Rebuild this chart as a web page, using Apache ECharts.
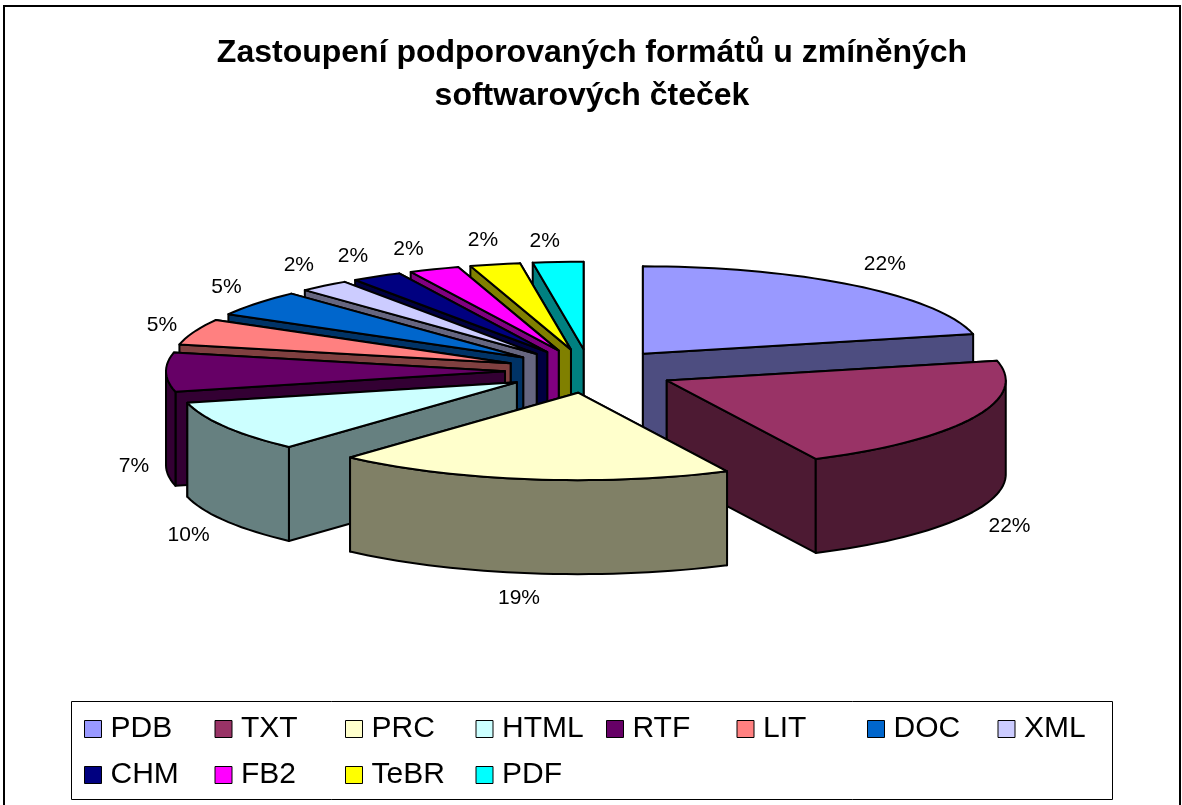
<!DOCTYPE html>
<html>
<head>
<meta charset="utf-8">
<style>
  html, body { margin: 0; padding: 0; background: #fff; }
  #chart { width: 1182px; height: 805px; }
</style>
<script src="https://cdn.jsdelivr.net/npm/echarts@6/dist/echarts.min.js"></script>
</head>
<body>
<div id="chart"></div>
<script>
const formats = ['PDB', 'TXT', 'PRC', 'HTML', 'RTF', 'LIT', 'DOC', 'XML', 'CHM', 'FB2', 'TeBR', 'PDF']
// slice sizes as measured from the wedge angles
const shares = [21.4, 21.4, 19, 9.5, 7.2, 4.8, 4.8, 2.4, 2.4, 2.4, 2.4, 2.4]
// percentages as printed next to the slices
const percentLabels = ['22%', '22%', '19%', '10%', '7%', '5%', '5%', '2%', '2%', '2%', '2%', '2%']
const topColors = ['#9999FF', '#993366', '#FFFFCC', '#CCFFFF', '#660066', '#FF8080', '#0066CC', '#CCCCFF', '#000080', '#FF00FF', '#FFFF00', '#00FFFF']
const sideColors = ['#4D4D80', '#4D1A33', '#808066', '#668080', '#330033', '#804040', '#003366', '#666680', '#000040', '#800080', '#808000', '#008080']

// fake 3D pie: flat disc tilted back
const cx = 590
const cy = 371
const radius = 339
const tilt = 0.258
const explode = 85
const depth = 94

// small per-label corrections, the default placement is a few px off
const labelShift = [[3, 0], [-4, 3], [-5, -2], [2, 1], [13, 0], [10, 3], [5, 1], [3, 0], [-1, 3], [-9, 5], [-2, 2], [-10, 6]]

const total = shares.reduce((a, b) => a + b, 0)

const project = (u, v, down) => [cx + u, cy - v * tilt + down]

const polar = (deg, r) => {
  const a = deg * Math.PI / 180
  return [r * Math.sin(a), r * Math.cos(a)]
}

const shape = (points, color) => ({
  type: 'polygon',
  shape: { points },
  style: { fill: color, stroke: '#000', lineWidth: 2, lineJoin: 'round' }
})

const drawSlice = (index, value, startShare) => {
  const from = startShare / total * 360
  const to = (startShare + value) / total * 360
  const mid = (from + to) / 2
  const [ox, oy] = polar(mid, explode)
  const at = (deg, r, down) => {
    const [u, v] = polar(deg, r)
    return project(ox + u, oy + v, down)
  }

  const rim = []
  const steps = Math.max(4, Math.round((to - from) / 2))
  for (let i = 0; i <= steps; i++) rim.push(from + (to - from) * i / steps)
  ;[90, 270].forEach(d => { if (d > from && d < to) rim.push(d) })
  rim.sort((a, b) => a - b)

  const children = []
  const wall = deg => shape([at(0, 0, 0), at(deg, radius, 0), at(deg, radius, depth), at(0, 0, depth)], sideColors[index])
  // the wall further from the viewer goes first
  const walls = polar(from, 1)[1] > polar(to, 1)[1] ? [from, to] : [to, from]
  walls.forEach(d => children.push(wall(d)))

  // outer wall only where the rim faces the viewer
  const front = rim.filter(d => d >= 90 && d <= 270)
  if (front.length > 1) {
    const low = front.map(d => at(d, radius, depth)).reverse()
    children.push(shape(front.map(d => at(d, radius, 0)).concat(low), sideColors[index]))
  }

  children.push(shape([at(0, 0, 0)].concat(rim.map(d => at(d, radius, 0))), topColors[index]))

  const [sx, cs] = polar(mid, 1)
  const base = at(mid, radius, cs < 0 ? depth : 0)
  children.push({
    type: 'text',
    style: {
      text: percentLabels[index],
      x: base[0] + sx * 45 + labelShift[index][0],
      y: base[1] - cs * 27 + labelShift[index][1],
      align: 'center',
      verticalAlign: 'middle',
      fill: '#000',
      font: '21px "Liberation Sans", Arial, sans-serif'
    }
  })
  return { type: 'group', children }
}

let running = 0
const series = formats.map((name, i) => {
  const startShare = running
  running += shares[i]
  const midDeg = (startShare + shares[i] / 2) / total * 360
  return {
    type: 'custom',
    name,
    coordinateSystem: 'none',
    z: 10 - Math.cos(midDeg * Math.PI / 180),
    itemStyle: { color: topColors[i] },
    data: [[shares[i]]],
    renderItem: (params, api) => drawSlice(i, api.value(0), startShare)
  }
})

const chart = echarts.init(document.getElementById('chart'))
chart.setOption({
  backgroundColor: '#fff',
  animation: false,
  title: {
    text: 'Zastoupení podporovaných formátů u zmíněných\nsoftwarových čteček',
    left: 587,
    top: 27,
    textAlign: 'center',
    textStyle: {
      fontFamily: '"Liberation Sans", Arial, sans-serif',
      fontWeight: 'bold',
      fontSize: 32,
      lineHeight: 43,
      color: '#000'
    }
  },
  legend: {
    data: formats,
    left: 84,
    top: 706,
    width: 1050,
    padding: 0,
    itemWidth: 17,
    itemHeight: 17,
    itemGap: 0,
    icon: 'rect',
    itemStyle: { borderColor: '#000', borderWidth: 1 },
    textStyle: {
      fontFamily: '"Liberation Sans", Arial, sans-serif',
      fontSize: 30,
      color: '#000',
      width: 104,
      padding: [0, 0, 0, 4],
      lineHeight: 46
    }
  },
  graphic: [
    { type: 'rect', z: 0, shape: { x: 4, y: 6, width: 1176, height: 820 }, style: { fill: 'none', stroke: '#000', lineWidth: 2 } },
    { type: 'rect', z: 0, shape: { x: 71.5, y: 701.5, width: 1041, height: 98 }, style: { fill: 'none', stroke: '#000', lineWidth: 1 } }
  ],
  series
})

window.addEventListener('resize', () => chart.resize())
</script>
</body>
</html>
